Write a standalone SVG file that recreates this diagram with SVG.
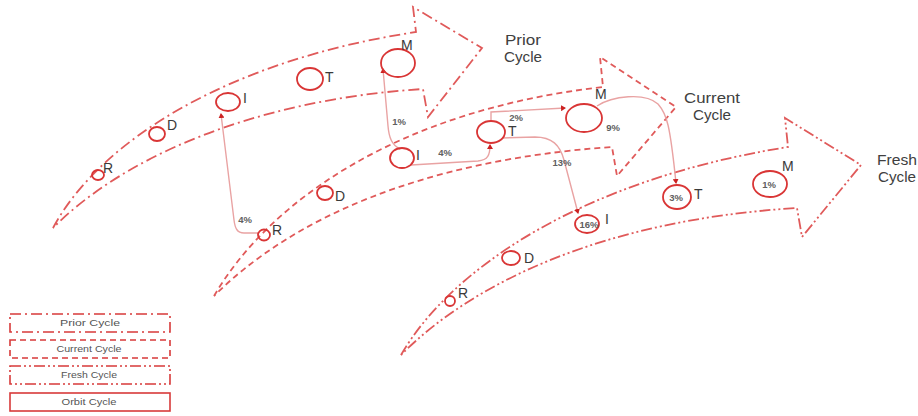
<svg xmlns="http://www.w3.org/2000/svg" width="918" height="416" viewBox="0 0 918 416">
<style>
.arr{fill:none;stroke:#e05a5a;stroke-width:1.8;stroke-linejoin:miter}
.prior{stroke-dasharray:11 4 2 4}
.current{stroke-dasharray:6 4}
.fresh{stroke-dasharray:11 3 2 3 2 3}
.node{fill:none;stroke:#d93535;stroke-width:1.8}
.lbl{font-family:"Liberation Sans",Arial,sans-serif;font-size:14px;fill:#3a3a3a}
.pct{font-family:"Liberation Sans",Arial,sans-serif;font-size:9.5px;font-weight:bold;fill:#606060;text-anchor:middle}
.cyc{font-family:"Liberation Sans",Arial,sans-serif;font-size:14px;fill:#404040;text-anchor:middle}
.leg{font-family:"Liberation Sans",Arial,sans-serif;font-size:9px;fill:#555;text-anchor:middle}
.con{fill:none;stroke:#e9a3a3;stroke-width:1.4}
.lbox{fill:none;stroke:#d83a3a;stroke-width:1.6}
</style>
<defs>
<marker id="ah" markerWidth="6" markerHeight="6" refX="4" refY="3" orient="auto" markerUnits="userSpaceOnUse">
<path d="M0,0 L5,3 L0,6 Z" fill="#cc2222"/>
</marker>
</defs>

<g id="arrows">
<path id="prior-arrow" class="arr prior" d="M53,228 C100,140 230,60 416,32 L413,7 L482,48 L428,117 L423,89 C250,100 120,160 53,228 Z"/>
<path id="current-arrow" class="arr current" d="M214,296 C270,200 400,110 603,87 L600,57 L676,107 L617,176 L612,147 C420,160 290,220 214,296 Z"/>
<path id="fresh-arrow" class="arr fresh" d="M401,355 C450,270 580,180 788,147 L785,118 L861,165 L802,237 L797,208 C600,220 470,285 401,355 Z"/>
</g>

<g id="cycle-labels">
<text class="cyc" x="523" y="45" textLength="36" lengthAdjust="spacingAndGlyphs">Prior</text>
<text class="cyc" x="523" y="62" textLength="38" lengthAdjust="spacingAndGlyphs">Cycle</text>
<text class="cyc" x="712" y="103" textLength="56" lengthAdjust="spacingAndGlyphs">Current</text>
<text class="cyc" x="712" y="120" textLength="38" lengthAdjust="spacingAndGlyphs">Cycle</text>
<text class="cyc" x="897" y="165" textLength="40" lengthAdjust="spacingAndGlyphs">Fresh</text>
<text class="cyc" x="897" y="182" textLength="38" lengthAdjust="spacingAndGlyphs">Cycle</text>
</g>

<g id="connectors">
<path class="con" d="M258,233 L244,233 C237,233 235,228 234,220 L221,114" marker-end="url(#ah)"/>
<path class="con" d="M400,149 C392,145 389,138 388,126 L383,69" marker-end="url(#ah)"/>
<path class="con" d="M411,165 L478,161 C488,160 490,155 490,145" marker-end="url(#ah)"/>
<path class="con" d="M491,121 L491,112 L565,108" marker-end="url(#ah)"/>
<path class="con" d="M502,138 L535,137 C552,137 560,145 564,160 L578,213" marker-end="url(#ah)"/>
<path class="con" d="M597,106 C612,96 645,92 658,104 C667,114 670,125 676,183" marker-end="url(#ah)"/>
<text class="pct" x="245" y="223">4%</text>
<text class="pct" x="399" y="125">1%</text>
<text class="pct" x="445" y="156">4%</text>
<text class="pct" x="516" y="121">2%</text>
<text class="pct" x="562" y="166">13%</text>
<text class="pct" x="613" y="131">9%</text>
</g>

<g id="prior-R"><ellipse class="node" cx="98" cy="175" rx="6" ry="5"/><text class="lbl" x="103" y="173">R</text></g>
<g id="prior-D"><ellipse class="node" cx="157" cy="134" rx="8" ry="7"/><text class="lbl" x="167" y="130">D</text></g>
<g id="prior-I"><ellipse class="node" cx="228" cy="102" rx="12" ry="9"/><text class="lbl" x="243" y="103">I</text></g>
<g id="prior-T"><ellipse class="node" cx="310" cy="79" rx="13" ry="11"/><text class="lbl" x="325" y="82">T</text></g>
<g id="prior-M"><ellipse class="node" cx="398" cy="63" rx="17" ry="14"/><text class="lbl" x="401" y="50">M</text></g>

<g id="current-R"><ellipse class="node" cx="264" cy="235" rx="6" ry="5.5"/><text class="lbl" x="272" y="235">R</text></g>
<g id="current-D"><ellipse class="node" cx="325" cy="193" rx="8" ry="7"/><text class="lbl" x="335" y="201">D</text></g>
<g id="current-I"><ellipse class="node" cx="402" cy="158" rx="12" ry="10"/><text class="lbl" x="416" y="160">I</text></g>
<g id="current-T"><ellipse class="node" cx="491" cy="132" rx="14" ry="11"/><text class="lbl" x="508" y="136">T</text></g>
<g id="current-M"><ellipse class="node" cx="584" cy="118" rx="18" ry="14"/><text class="lbl" x="595" y="99">M</text></g>

<g id="fresh-R"><ellipse class="node" cx="450" cy="301" rx="5" ry="5"/><text class="lbl" x="458" y="298">R</text></g>
<g id="fresh-D"><ellipse class="node" cx="511" cy="258" rx="9" ry="7"/><text class="lbl" x="524" y="263">D</text></g>
<g id="fresh-I"><ellipse class="node" cx="587" cy="224" rx="12" ry="9"/><text class="pct" x="589" y="228">16%</text><text class="lbl" x="605" y="224">I</text></g>
<g id="fresh-T"><ellipse class="node" cx="677" cy="197" rx="14" ry="12"/><text class="pct" x="676" y="201">3%</text><text class="lbl" x="694" y="199">T</text></g>
<g id="fresh-M"><ellipse class="node" cx="770" cy="184" rx="17" ry="13"/><text class="pct" x="769" y="188">1%</text><text class="lbl" x="782" y="171">M</text></g>

<g id="legend">
<rect class="lbox prior" x="10" y="314" width="160" height="18"/>
<text class="leg" x="90" y="326" textLength="60" lengthAdjust="spacingAndGlyphs">Prior Cycle</text>
<rect class="lbox current" x="10" y="340" width="160" height="18"/>
<text class="leg" x="89" y="352" textLength="65" lengthAdjust="spacingAndGlyphs">Current Cycle</text>
<rect class="lbox fresh" x="10" y="366" width="160" height="18"/>
<text class="leg" x="89" y="378" textLength="56" lengthAdjust="spacingAndGlyphs">Fresh Cycle</text>
<rect class="lbox" x="10" y="393" width="160" height="18"/>
<text class="leg" x="89" y="405" textLength="55" lengthAdjust="spacingAndGlyphs">Orbit Cycle</text>
</g>
</svg>
